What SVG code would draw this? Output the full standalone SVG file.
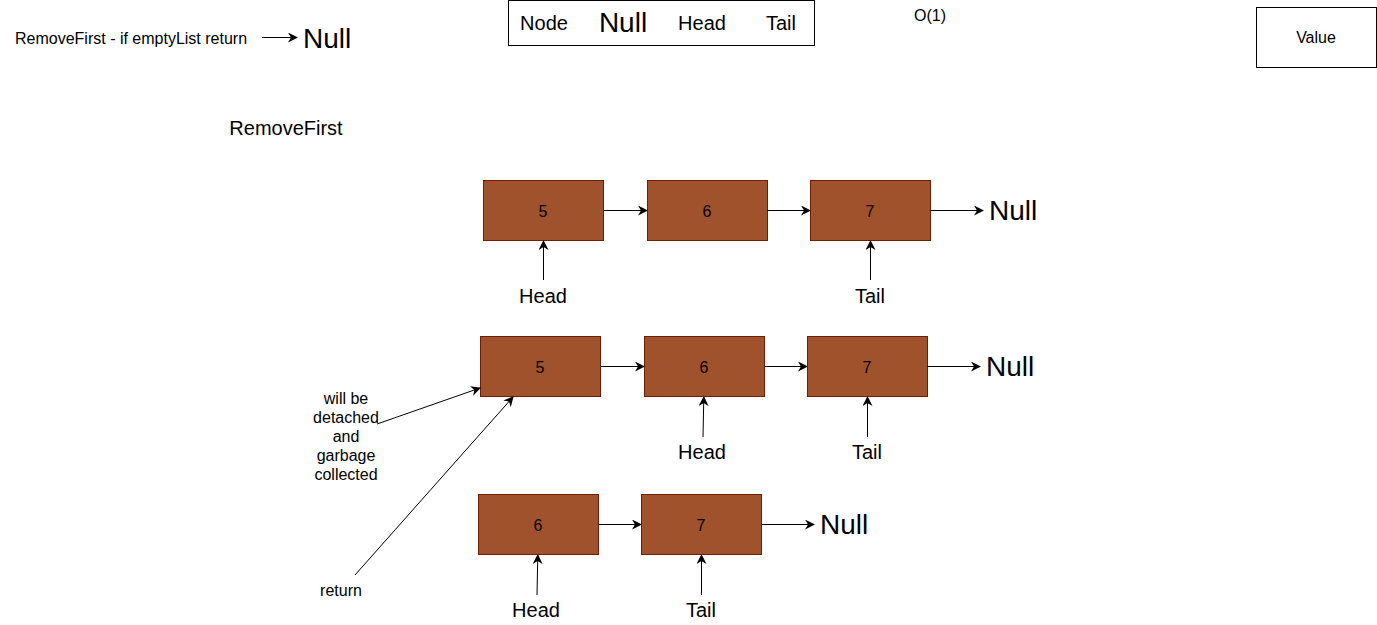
<svg xmlns="http://www.w3.org/2000/svg" width="1377" height="625" viewBox="0 0 1377 625">
<defs>
<marker id="ah" viewBox="0 0 10 10" refX="9" refY="5" markerWidth="10" markerHeight="10" markerUnits="userSpaceOnUse" orient="auto">
<path d="M0,0 L10,5 L0,10 L3,5 Z" fill="#000"/>
</marker>
</defs>
<style>
text{font-family:"Liberation Sans",Arial,sans-serif;fill:#000;dominant-baseline:central;text-anchor:middle}
.n rect{fill:#a0522d;stroke:#6d1f00;stroke-width:1}
.n text{font-size:16px}
.lbl{font-size:20px}
.big{font-size:28px}
.sm{font-size:16px}
.c line{stroke:#000;stroke-width:1;marker-end:url(#ah)}
</style>
<rect width="1377" height="625" fill="#fff"/>

<text class="sm" x="15" y="38" style="text-anchor:start">RemoveFirst - if emptyList return</text>
<text class="big" x="303" y="38" style="text-anchor:start">Null</text>

<g id="legend">
<rect x="508.5" y="0.5" width="306" height="45" fill="#fff" stroke="#000"/>
<text class="lbl" x="544" y="23">Node</text>
<text class="big" x="623" y="22">Null</text>
<text class="lbl" x="702" y="23">Head</text>
<text class="lbl" x="781" y="23">Tail</text>
</g>
<text class="sm" x="930" y="15">O(1)</text>
<g id="value">
<rect x="1256.5" y="7.5" width="120" height="60" fill="#fff" stroke="#000"/>
<text class="sm" x="1316" y="37">Value</text>
</g>
<text class="lbl" x="286" y="128">RemoveFirst</text>

<g id="r1n5" class="n"><rect x="483.5" y="180.5" width="120" height="60"/><text x="543" y="211">5</text></g>
<g id="r1n6" class="n"><rect x="647.5" y="180.5" width="120" height="60"/><text x="707" y="211">6</text></g>
<g id="r1n7" class="n"><rect x="810.5" y="180.5" width="120" height="60"/><text x="870" y="211">7</text></g>
<text class="big" x="989" y="210" style="text-anchor:start">Null</text>
<text class="lbl" x="543" y="296">Head</text>
<text class="lbl" x="870" y="296">Tail</text>

<g id="r2n5" class="n"><rect x="480.5" y="336.5" width="120" height="60"/><text x="540" y="367">5</text></g>
<g id="r2n6" class="n"><rect x="644.5" y="336.5" width="120" height="60"/><text x="704" y="367">6</text></g>
<g id="r2n7" class="n"><rect x="807.5" y="336.5" width="120" height="60"/><text x="867" y="367">7</text></g>
<text class="big" x="986" y="366" style="text-anchor:start">Null</text>
<text class="lbl" x="702" y="452">Head</text>
<text class="lbl" x="867" y="452">Tail</text>

<g id="r3n6" class="n"><rect x="478.5" y="494.5" width="120" height="60"/><text x="538" y="525">6</text></g>
<g id="r3n7" class="n"><rect x="641.5" y="494.5" width="120" height="60"/><text x="701" y="525">7</text></g>
<text class="big" x="820" y="524" style="text-anchor:start">Null</text>
<text class="lbl" x="536" y="610">Head</text>
<text class="lbl" x="701" y="610">Tail</text>

<g id="note">
<text class="sm" x="346" y="398">will be</text>
<text class="sm" x="346" y="417">detached</text>
<text class="sm" x="346" y="436">and</text>
<text class="sm" x="346" y="455">garbage</text>
<text class="sm" x="346" y="474">collected</text>
</g>
<text class="sm" x="341" y="590">return</text>

<g id="connectors" class="c">
<line x1="262" y1="37.5" x2="297" y2="37.5"/>
<line x1="603.5" y1="210.5" x2="647" y2="210.5"/>
<line x1="767.5" y1="210.5" x2="810" y2="210.5"/>
<line x1="930.5" y1="210.5" x2="983" y2="210.5"/>
<line x1="543.5" y1="280" x2="543.5" y2="241"/>
<line x1="870.5" y1="280" x2="870.5" y2="241"/>
<line x1="600.5" y1="366.5" x2="644" y2="366.5"/>
<line x1="764.5" y1="366.5" x2="807" y2="366.5"/>
<line x1="927.5" y1="366.5" x2="980" y2="366.5"/>
<line x1="703" y1="437" x2="703.8" y2="397"/>
<line x1="867.5" y1="437" x2="867.5" y2="397"/>
<line x1="598.5" y1="524.5" x2="641" y2="524.5"/>
<line x1="761.5" y1="524.5" x2="814" y2="524.5"/>
<line x1="537" y1="595" x2="537.8" y2="555"/>
<line x1="701.5" y1="595" x2="701.5" y2="555"/>
<line x1="377" y1="424" x2="480" y2="388"/>
<line x1="355" y1="575" x2="513" y2="397"/>
</g>
</svg>
